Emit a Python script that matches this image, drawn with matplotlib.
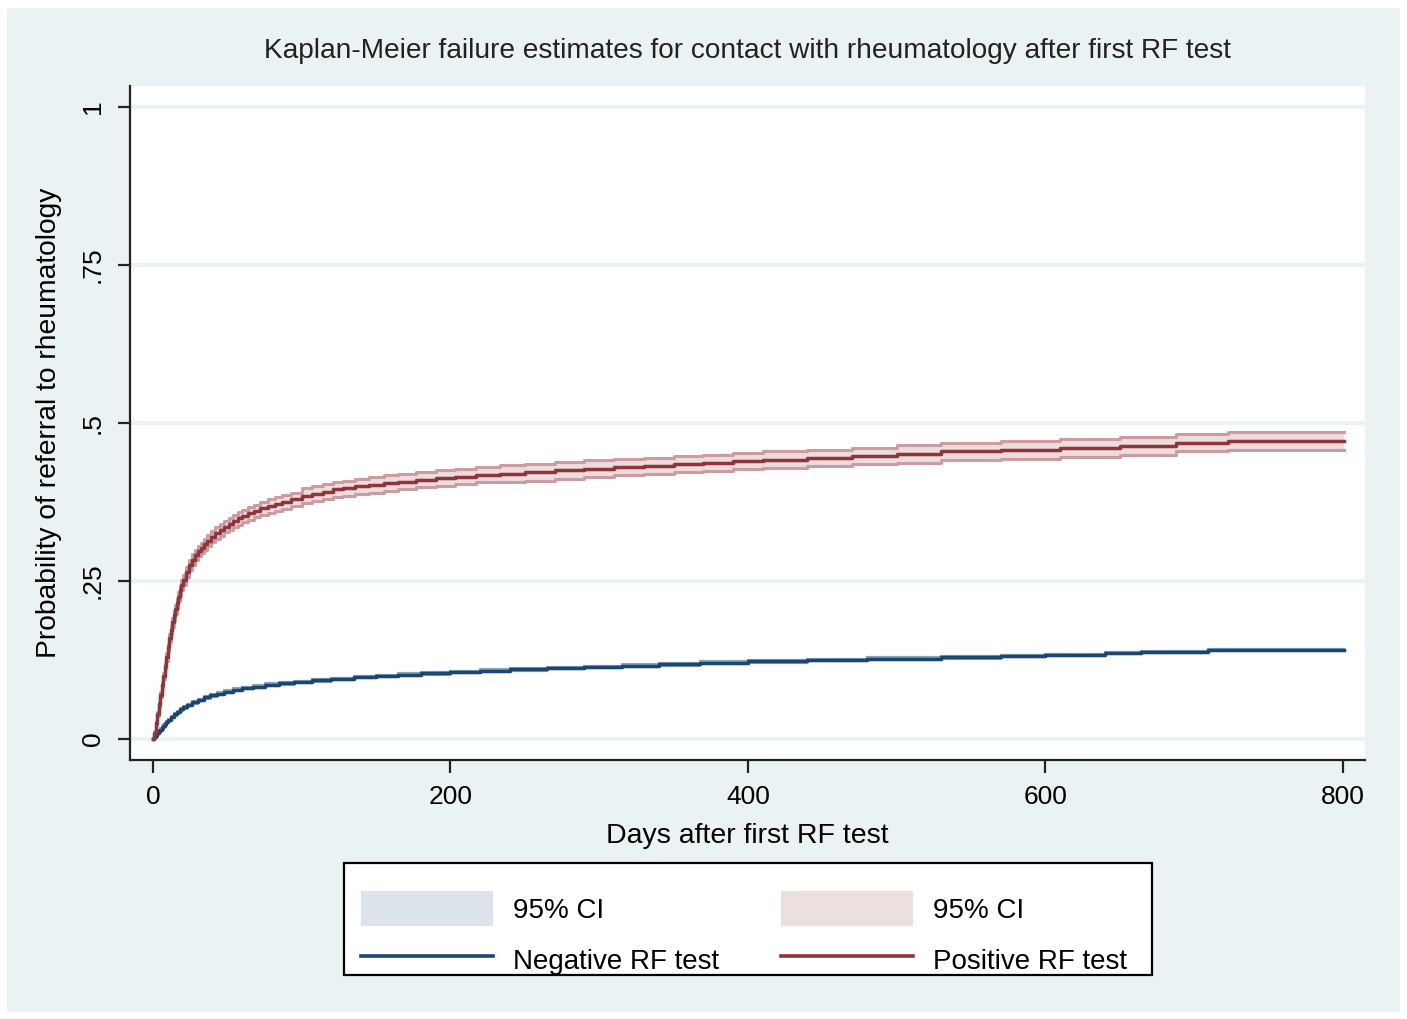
import matplotlib
matplotlib.use("Agg")
import matplotlib.pyplot as plt
from matplotlib.patches import Rectangle, Patch
from matplotlib.lines import Line2D

plt.rcParams['font.family'] = ['Liberation Sans', 'DejaVu Sans']

# Kaplan-Meier failure estimates (days, probability)
pos_days = [0, 1, 2, 3, 4, 5, 6, 7, 8, 9, 10, 11, 12, 13, 14, 15, 16, 17, 18, 19, 20,
            22, 24, 26, 28, 30, 32, 34, 36,
            39, 42, 45, 48, 51, 54, 57, 60,
            64, 68, 72, 77, 82, 87, 93, 100,
            107, 114, 121, 128, 136, 145, 155, 165,
            177, 190, 203, 217, 233, 250, 270, 290,
            310, 330, 350, 370, 390, 410, 440, 470,
            500, 530, 570, 610, 650, 688, 723, 801]
pos_est = [0, .010, .025, .040, .055, .070, .085, .100, .115, .130, .145, .160, .172, .185, .196, .205,
           .215, .225, .235, .244, .252,
           .264, .275, .284, .291, .297, .302, .308, .314,
           .320, .326, .331, .336, .340, .345, .349, .353,
           .357, .361, .365, .368, .372, .375, .379, .385,
           .388, .391, .395, .397, .400, .402, .405, .407,
           .410, .413, .415, .418, .420, .422, .425, .428,
           .430, .432, .435, .437, .440, .442, .445, .448,
           .451, .455, .457, .460, .464, .469, .472, .472]
pos_lo = [0, .008, .022, .037, .051, .066, .080, .095, .110, .124, .139, .154, .166, .178, .189, .198,
          .208, .218, .228, .236, .244,
          .256, .267, .276, .283, .289, .294, .299, .305,
          .311, .317, .322, .327, .330, .335, .339, .343,
          .347, .351, .355, .357, .361, .364, .368, .373,
          .376, .379, .383, .385, .388, .390, .393, .395,
          .398, .401, .403, .406, .407, .409, .412, .415,
          .417, .419, .422, .424, .427, .429, .432, .435,
          .437, .441, .443, .446, .450, .455, .4575, .4575]
pos_hi = [0, .012, .028, .043, .059, .074, .090, .105, .120, .136, .151, .166, .178, .192, .203, .212,
          .222, .232, .242, .252, .260,
          .272, .283, .292, .299, .305, .310, .317, .323,
          .329, .335, .340, .345, .350, .355, .359, .363,
          .367, .371, .375, .379, .383, .386, .390, .397,
          .400, .403, .407, .409, .412, .414, .417, .419,
          .422, .425, .427, .430, .433, .435, .438, .441,
          .443, .445, .448, .450, .453, .455, .458, .461,
          .465, .469, .471, .474, .478, .483, .4865, .4865]

neg_days = [0, 1, 2, 3, 4, 5, 6, 7, 8, 9, 10, 12, 14, 16, 18, 20, 23, 26, 30, 34, 38,
            43, 48, 54, 60, 67, 75, 85, 95, 107, 120, 135, 150, 165, 180, 200,
            220, 240, 265, 290, 315, 340, 368, 400, 440, 480, 530, 570, 600, 640, 664, 709, 801]
neg_est = [0, .003, .006, .009, .012, .015, .018, .021, .024, .027, .030, .035, .039, .043, .047, .050,
           .054, .058, .062, .066, .069, .072, .075, .078, .081, .083, .086, .088, .090, .093, .095,
           .098, .100, .102, .104, .106, .108, .110, .112, .114, .116, .118, .121, .123, .125, .127,
           .129, .131, .133, .136, .138, .141, .141]
neg_lo = [0, .002, .005, .008, .010, .013, .016, .019, .022, .025, .028, .033, .037, .041, .045, .048,
          .052, .056, .060, .064, .067, .070, .073, .076, .079, .081, .084, .086, .088, .091, .093,
          .096, .098, .100, .102, .104, .106, .108, .110, .112, .114, .116, .119, .121, .123, .125,
          .127, .129, .131, .134, .136, .139, .139]
neg_hi = [0, .004, .007, .010, .014, .017, .020, .023, .026, .029, .032, .037, .041, .045, .049, .052,
          .056, .060, .064, .068, .071, .074, .077, .080, .083, .085, .088, .090, .092, .095, .097,
          .100, .102, .104, .106, .108, .110, .112, .114, .116, .118, .120, .123, .125, .127, .129,
          .131, .133, .135, .138, .140, .143, .143]

xticks = [0, 200, 400, 600, 800]
yticks = [0, .25, .5, .75, 1]
ytick_labels = ["0", ".25", ".5", ".75", "1"]

bg = '#EAF2F3'
navy = '#1a476f'
maroon = '#90353b'
W, H = 1407, 1019

fig = plt.figure(figsize=(14.07, 10.19), dpi=100)
fig.patch.set_facecolor('white')
fig.patches.append(Rectangle((7 / W, 1 - 1012 / H), 1393 / W, 1004 / H,
                             transform=fig.transFigure, facecolor=bg, edgecolor='none', zorder=-10))

ax = fig.add_axes([130 / W, 1 - 760 / H, 1235 / W, 674 / H])
ax.set_facecolor('white')
ax.set_xlim(-15.46, 814.8)
ax.set_ylim(-0.0332, 1.0332)

for y in yticks:
    ax.axhline(y, color=bg, lw=2.8, zorder=0)

# CI bands
ax.fill_between(neg_days, neg_lo, neg_hi, step='post', facecolor='#dde3ea', edgecolor='none', zorder=1)
ax.step(neg_days, neg_lo, where='post', color='#8ea3b9', lw=1.6, zorder=2)
ax.step(neg_days, neg_hi, where='post', color='#8ea3b9', lw=1.6, zorder=2)
ax.fill_between(pos_days, pos_lo, pos_hi, step='post', facecolor='#ecdcdd', edgecolor='none', zorder=1)
ax.step(pos_days, pos_lo, where='post', color='#cc9ca0', lw=2.2, zorder=2)
ax.step(pos_days, pos_hi, where='post', color='#cc9ca0', lw=2.2, zorder=2)

ax.step(neg_days, neg_est, where='post', color=navy, lw=2.5, zorder=3)
ax.step(pos_days, pos_est, where='post', color=maroon, lw=2.5, zorder=3)

for s in ['top', 'right']:
    ax.spines[s].set_visible(False)
for s in ['left', 'bottom']:
    ax.spines[s].set_color('#222222')
    ax.spines[s].set_linewidth(1.6)

ax.set_xticks(xticks)
ax.set_yticks(yticks)
ax.set_yticklabels(ytick_labels, rotation=90, va='center')
ax.tick_params(axis='both', direction='out', length=9, width=1.6, color='#222222',
               labelsize=19, pad=9)

ax.set_title("Kaplan-Meier failure estimates for contact with rheumatology after first RF test",
             fontsize=20.2, color='#222222', pad=20)
ax.set_xlabel("Days after first RF test", fontsize=20.5, labelpad=10)
ax.set_ylabel("Probability of referral to rheumatology", fontsize=20.3, labelpad=14)

# legend frame drawn separately so the inner spacing can follow the original
fig.patches.append(Rectangle((344 / W, 1 - 975 / H), 808 / W, 112 / H, transform=fig.transFigure,
                             facecolor='white', edgecolor='black', lw=1.6, zorder=5))

handles = [Patch(facecolor='#dde3ea', edgecolor='none'),
           Line2D([], [], color=navy, lw=2.6),
           Patch(facecolor='#ecdfe0', edgecolor='none'),
           Line2D([], [], color=maroon, lw=2.6)]
labels = ["95% CI", "Negative RF test", "95% CI", "Positive RF test"]
leg = fig.legend(handles, labels, ncol=2, loc='upper center',
                 bbox_to_anchor=(744 / W, 1 - 891 / H), borderaxespad=0, borderpad=0,
                 fontsize=20, frameon=False,
                 handlelength=4.75, handleheight=1.56, handletextpad=0.75,
                 columnspacing=2.2, labelspacing=0.6)
leg.set_zorder(6)

fig.savefig("out.png", dpi=100, facecolor=fig.get_facecolor())
